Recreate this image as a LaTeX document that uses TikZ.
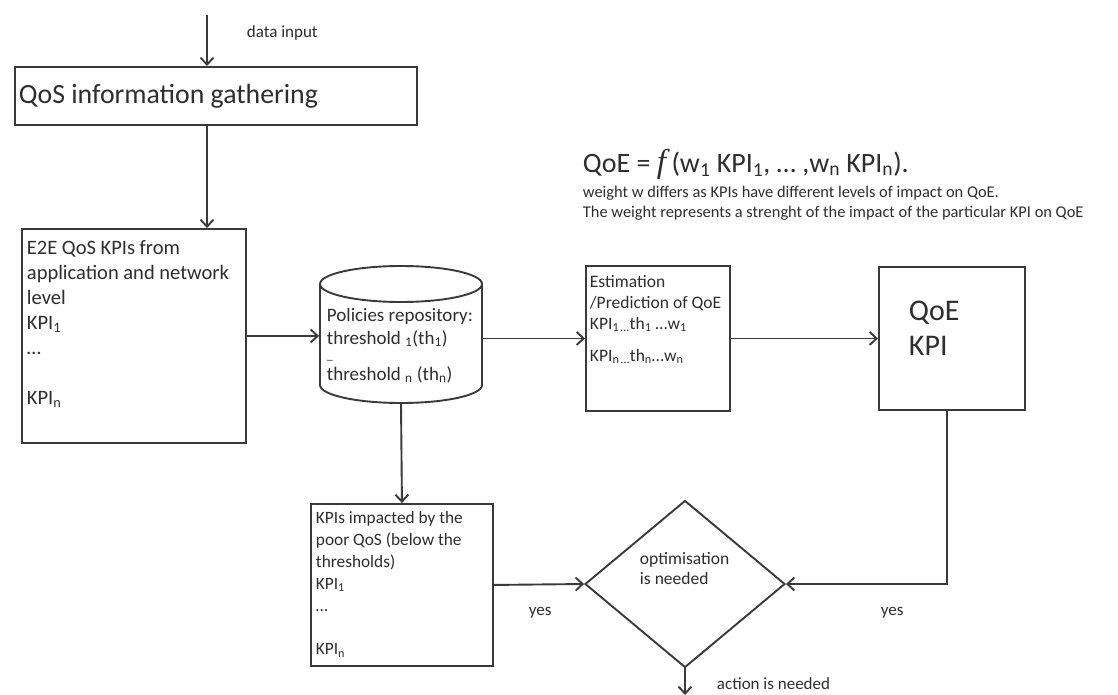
\documentclass[tikz,border=0pt]{standalone}
\usepackage{fontspec}
\setmainfont{Carlito}
\newfontfamily\mathserif{Liberation Serif}
\usetikzlibrary{arrows.meta,shapes.geometric}
\definecolor{ln}{HTML}{3A3A3A}
\definecolor{tx}{HTML}{2E2E2E}
\newcommand{\fsz}[2]{\fontsize{#1}{#2}\selectfont}
\begin{document}
\begin{tikzpicture}[x=1pt,y=-1pt,line width=1.9pt,color=ln,
  arr/.style={-{Straight Barb[length=7pt,width=13pt,line width=1.9pt]}},
  frame/.style={draw=ln,rectangle,inner sep=0pt,anchor=north west},
  lbl/.style={text=tx,inner sep=0pt,align=left,anchor=north west},
  one/.style={text=tx,inner sep=0pt,anchor=base west}]
\useasboundingbox (0,0) rectangle (1118,695);
\fill[white] (0,0) rectangle (1118,695);

% boxes
\node[frame,minimum width=402pt,minimum height=58pt] (qos) at (14,66) {};
\node[frame,minimum width=224pt,minimum height=214pt] (e2e) at (21,228) {};
\node[frame,minimum width=144pt,minimum height=145pt] (est) at (585,265) {};
\node[frame,minimum width=146pt,minimum height=143pt] (qoe) at (878,266) {};
\node[frame,minimum width=182pt,minimum height=162pt] (kpis) at (310,503) {};
\node[draw=ln,diamond,inner sep=0pt,aspect=1.2,minimum width=200pt,minimum height=167pt] (dia) at (685,584) {};

% policies repository (cylinder)
\node[inner sep=0pt,minimum width=162pt,minimum height=137pt] (rep) at (401,334.5) {};
\draw (401,284) ellipse [x radius=81pt,y radius=18pt];
\draw (320,284) -- (320,385) arc[start angle=180,end angle=360,x radius=81pt,y radius=18pt] -- (482,284);

% free ends
\coordinate (in) at (207,15);
\coordinate (out) at (685,695);

% texts
\node[one,font=\fsz{17}{20}] (tin) at (246,38) {data input};
\node[one,font=\fsz{27.8}{33}] (tqos) at (18,104) {QoS information gathering};
\node[lbl,font=\fsz{20.5}{25}] (te2e) at (26,239) {E2E QoS KPIs from\\application and network\\level\\KPI\textsubscript{1}\\…\\[25pt]KPI\textsubscript{n}};
\node[lbl,font=\fsz{19}{23}] (trep) at (326,307) {Policies repository:\\threshold \textsubscript{1}(th\textsubscript{1})\\[-8pt]{\fsz{12}{12}\_}\\[-2pt]threshold \textsubscript{n} (th\textsubscript{n})};
\node[lbl,font=\fsz{17.5}{21}] (test) at (589,274) {Estimation\\/Prediction of QoE\\KPI\textsubscript{1\,…}th\textsubscript{1} …w\textsubscript{1}\\[11pt]KPI\textsubscript{n\,…}th\textsubscript{n}…w\textsubscript{n}};
\node[lbl,font=\fsz{30}{35}] (tqoe) at (908,300) {QoE\\KPI};
\node[lbl,font=\fsz{17.3}{21.8}] (tkpis) at (315,511) {KPIs impacted by the\\poor QoS (below the\\thresholds)\\KPI\textsubscript{1}\\…\\[21.8pt]KPI\textsubscript{n}};
\node[lbl,font=\fsz{17.5}{20}] (tdia) at (639,551) {optimisation\\is needed};
\node[one,font=\fsz{28}{34}] (tf) at (582,172) {QoE = {\mathserif\itshape\fsz{33}{33}f\,}(w\textsubscript{1} KPI\textsubscript{1}, … ,w\textsubscript{n} KPI\textsubscript{n}).};
\node[lbl,font=\fsz{16.4}{20}] (tnote) at (582,185) {weight w differs as KPIs have different levels of impact on QoE.\\The weight represents a strenght of the impact of the particular KPI on QoE};
\node[one,font=\fsz{17}{20}] (tyes1) at (528,615) {yes};
\node[one,font=\fsz{17}{20}] (tyes2) at (880,615) {yes};
\node[one,font=\fsz{17}{20}] (tact) at (716,689) {action is needed};

% connectors
\draw[arr] (in) -- (in |- qos.north);
\draw[arr] (in |- qos.south) -- (in |- e2e.north);
\draw[arr] (e2e.east) -- (e2e.east -| rep.west);
\draw[arr] (rep.east |- est.west) -- (est.west);
\draw[arr] (est.east) -- (qoe.west);
\draw[arr] (rep.south) -- (kpis.north);
\draw[arr] (kpis.east) -- (dia.west);
\draw[arr] (qoe.south -| 947,0) -- (947,0 |- dia.east) -- (dia.east);
\draw[arr] (dia.south) -- (out);
\end{tikzpicture}
\end{document}
